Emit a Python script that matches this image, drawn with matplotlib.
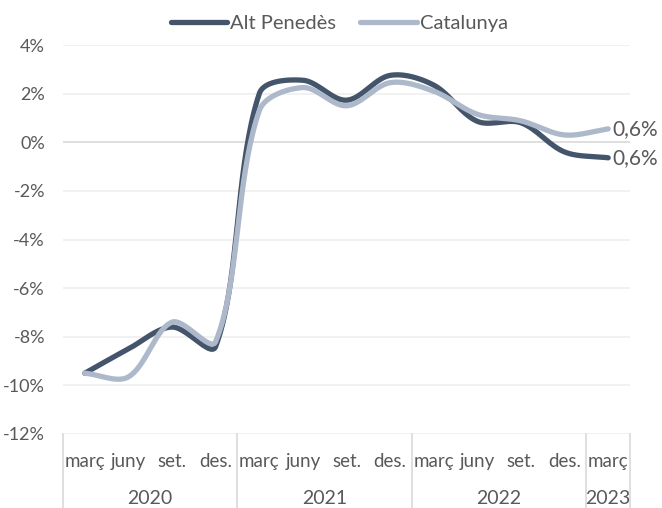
import numpy as np
import matplotlib.pyplot as plt
from matplotlib.transforms import blended_transform_factory

plt.rcParams['font.family'] = ['Lato', 'DejaVu Sans']

months = ["març", "juny", "set.", "des."] * 3 + ["març"]
years = ["2020", "2021", "2022", "2023"]
alt_penedes = [-9.5, -8.5, -7.6, -8.4, 2.0, 2.55, 1.73, 2.75, 2.35, 0.86, 0.8, -0.4, -0.64]
catalunya = [-9.5, -9.65, -7.4, -8.2, 1.3, 2.25, 1.5, 2.45, 2.1, 1.15, 0.88, 0.3, 0.55]
end_label = "0,6%"

dark = '#44546A'
light = '#ADB9CA'
txt = '#595959'

XPX, YPX = 43.6, 24.3  # px per category / per 1%


def smooth(x, y, n=40):
    # bezier smoothing with handles proportional to segment length (spreadsheet-like)
    p = np.column_stack([np.asarray(x, float) * XPX, np.asarray(y, float) * YPX])
    m = len(p)
    seg = np.linalg.norm(np.diff(p, axis=0), axis=1)
    out = []
    t = np.linspace(0, 1, n)[:, None]
    for i in range(m - 1):
        p1, p2 = p[i], p[i + 1]
        if i == 0:
            c1 = p1 + (p2 - p1) / 3
        else:
            d = p2 - p[i - 1]
            c1 = p1 + d * seg[i] / (seg[i - 1] + seg[i]) / 3
        if i == m - 2:
            c2 = p2 - (p2 - p1) / 3
        else:
            d = p[i + 2] - p1
            c2 = p2 - d * seg[i] / (seg[i] + seg[i + 1]) / 3
        c = ((1 - t) ** 3) * p1 + 3 * ((1 - t) ** 2) * t * c1 + 3 * (1 - t) * t ** 2 * c2 + t ** 3 * p2
        out.append(c if i == 0 else c[1:])
    c = np.vstack(out)
    return c[:, 0] / XPX, c[:, 1] / YPX


x = np.arange(len(months))
fig = plt.figure(figsize=(6.62, 5.08), dpi=100)
ax = fig.add_axes([63 / 662, 1 - 434 / 508, 567 / 662, 389 / 508])

sx, sy = smooth(x, alt_penedes)
ax.plot(sx, sy, color=dark, lw=3.8, solid_capstyle='round', label='Alt Penedès', zorder=3)
sx, sy = smooth(x, catalunya)
ax.plot(sx, sy, color=light, lw=3.8, solid_capstyle='round', label='Catalunya', zorder=4)

ax.set_xlim(-0.5, len(months) - 0.5)
ax.set_ylim(-12, 4)
yt = np.arange(-12, 5, 2)
ax.set_yticks(yt)
ax.set_yticklabels([f"{v}%" for v in yt])
for v in yt:
    ax.axhline(v, color='#D9D9D9' if v == 0 else '#EFEFEF', lw=1.2, zorder=1)
ax.tick_params(axis='y', length=0, pad=13, labelsize=13, labelcolor=txt)
ax.set_xticks([])
for s in ax.spines.values():
    s.set_visible(False)

ax.text(x[-1] + 0.1, alt_penedes[-1], end_label, fontsize=15, color=txt, va='center', ha='left')
ax.text(x[-1] + 0.1, catalunya[-1], end_label, fontsize=15, color=txt, va='center', ha='left')

# two-level category axis
tr = blended_transform_factory(ax.transData, ax.transAxes)
for xi, m in zip(x, months):
    ax.text(xi, -0.07, m, transform=tr, ha='center', va='center', fontsize=13.5, color=txt)
groups = [(0, 3), (4, 7), (8, 11), (12, 12)]
for (a, b), yr in zip(groups, years):
    ax.text((a + b) / 2, -0.165, yr, transform=tr, ha='center', va='center', fontsize=14, color=txt)
for b in [-0.5, 3.5, 7.5, 11.5, 12.5]:
    ax.plot([b, b], [0, -0.2], transform=tr, color='#D9D9D9', lw=1.2, clip_on=False)

ax.legend(loc='upper center', bbox_to_anchor=(0.487, 1.125), ncol=2, frameon=False,
          fontsize=14.5, labelcolor=txt, handlelength=2.8, handletextpad=0.15, columnspacing=1.2)

fig.savefig('out.png', dpi=100)
